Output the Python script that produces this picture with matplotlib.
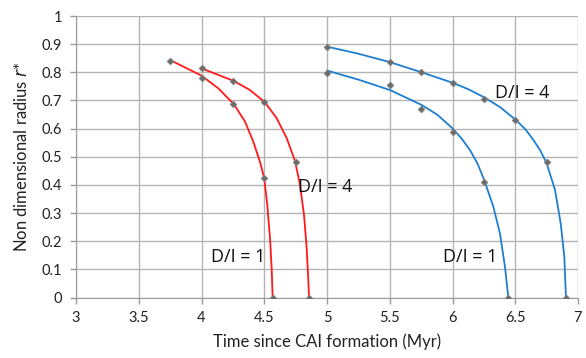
import matplotlib
matplotlib.use("Agg")
import matplotlib.pyplot as plt

plt.rcParams['font.family'] = ['Lato', 'DejaVu Sans']

# Data points (simulation results)
red1_t = [3.75, 4.0, 4.25, 4.5, 4.567]
red1_r = [0.841, 0.781, 0.686, 0.423, 0.0]
red4_t = [4.0, 4.25, 4.5, 4.75, 4.857]
red4_r = [0.814, 0.769, 0.693, 0.482, 0.0]
blue4_t = [5.0, 5.5, 5.75, 6.0, 6.25, 6.5, 6.75, 6.904]
blue4_r = [0.891, 0.836, 0.800, 0.763, 0.704, 0.631, 0.481, 0.0]
blue1_t = [5.0, 5.5, 5.75, 6.0, 6.25, 6.445]
blue1_r = [0.796, 0.755, 0.670, 0.587, 0.409, 0.0]

# Fitted curves
red1_curve_t = [3.762, 4.0, 4.134, 4.259, 4.347, 4.413, 4.466, 4.50, 4.524, 4.546, 4.559, 4.567]
red1_curve_r = [0.841, 0.788, 0.743, 0.686, 0.625, 0.553, 0.482, 0.423, 0.329, 0.210, 0.104, 0.0]
red4_curve_t = [4.0, 4.259, 4.386, 4.506, 4.599, 4.679, 4.745, 4.785, 4.817, 4.838, 4.849, 4.857]
red4_curve_r = [0.814, 0.769, 0.737, 0.693, 0.637, 0.566, 0.485, 0.400, 0.293, 0.175, 0.080, 0.0]
blue4_curve_t = [5.002, 5.25, 5.502, 5.754, 6.0, 6.13, 6.253, 6.38, 6.504, 6.58, 6.644, 6.70, 6.75, 6.817, 6.862, 6.891, 6.904]
blue4_curve_r = [0.891, 0.866, 0.836, 0.800, 0.763, 0.739, 0.711, 0.676, 0.631, 0.598, 0.560, 0.522, 0.477, 0.382, 0.264, 0.145, 0.0]
blue1_curve_t = [5.002, 5.25, 5.502, 5.754, 5.88, 6.0, 6.07, 6.139, 6.20, 6.253, 6.325, 6.378, 6.418, 6.445]
blue1_curve_r = [0.806, 0.774, 0.737, 0.684, 0.649, 0.601, 0.566, 0.524, 0.475, 0.417, 0.323, 0.228, 0.109, 0.0]

xticks = [3, 3.5, 4, 4.5, 5, 5.5, 6, 6.5, 7]
xtick_labels = ["3", "3.5", "4", "4.5", "5", "5.5", "6", "6.5", "7"]
yticks = [0, 0.1, 0.2, 0.3, 0.4, 0.5, 0.6, 0.7, 0.8, 0.9, 1]
ytick_labels = ["0", "0.1", "0.2", "0.3", "0.4", "0.5", "0.6", "0.7", "0.8", "0.9", "1"]

fig = plt.figure(figsize=(5.86, 3.58), dpi=100)
ax = fig.add_axes([76/586, 1-297.5/358, (578-76)/586, (297.5-16)/358])

red = "#ff1a1a"
blue = "#1e7fd0"
for t, r, c in [(red1_curve_t, red1_curve_r, red), (red4_curve_t, red4_curve_r, red),
                (blue4_curve_t, blue4_curve_r, blue), (blue1_curve_t, blue1_curve_r, blue)]:
    ax.plot(t, r, color=c, lw=1.3, zorder=3, solid_joinstyle='round')

for t, r in [(red1_t, red1_r), (red4_t, red4_r), (blue4_t, blue4_r), (blue1_t, blue1_r)]:
    ax.plot(t, r, linestyle='none', marker='D', markersize=3.5, color="#6a6a6a",
            markeredgecolor="#8a8a8a", markeredgewidth=0.5, zorder=4)

ax.set_xlim(3, 7)
ax.set_ylim(0, 1)
ax.set_xticks(xticks)
ax.set_xticklabels(xtick_labels)
ax.set_yticks(yticks)
ax.set_yticklabels(ytick_labels)
ax.grid(True, color="#b4b4b4", lw=1)
ax.set_axisbelow(True)
for s in ['top', 'right']:
    ax.spines[s].set_visible(False)
for s in ['left', 'bottom']:
    ax.spines[s].set_color("#9a9a9a")
ax.tick_params(axis='both', colors="#9a9a9a", length=4, width=1, labelsize=10.5,
               labelcolor="#222222", pad=6)

ax.set_xlabel("Time since CAI formation (Myr)", fontsize=12, color="#222222", labelpad=6)
ax.set_ylabel(r"Non dimensional radius $\mathit{r}$*", fontsize=12, color="#222222", labelpad=8)

lab = dict(fontsize=13, color="#111111", family=['Open Sans', 'DejaVu Sans'],
           ha='center', va='center')
ax.text(4.29, 0.144, "D/I = 1", **lab)
ax.text(4.99, 0.393, "D/I = 4", **lab)
ax.text(6.554, 0.725, "D/I = 4", **lab)
ax.text(6.139, 0.143, "D/I = 1", **lab)

fig.savefig("out.png", dpi=100)
